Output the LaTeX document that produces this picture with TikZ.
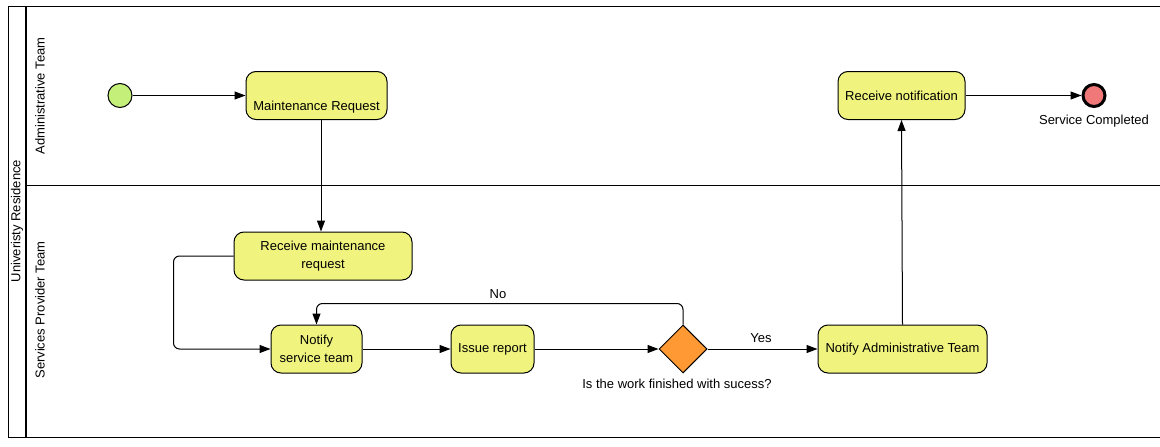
\documentclass[tikz,border=0pt]{standalone}
\usepackage{fontspec}
\setmainfont{Liberation Sans}
\usetikzlibrary{arrows.meta,shapes.geometric}
\definecolor{taskyellow}{RGB}{240,244,126}
\definecolor{startgreen}{RGB}{196,240,122}
\definecolor{endred}{RGB}{240,120,120}
\definecolor{gateorange}{RGB}{255,153,51}

\begin{document}
\begin{tikzpicture}[x=1pt,y=-1pt,
    font=\fontsize{13}{18}\selectfont,
    task/.style={draw, line width=1pt, fill=taskyellow, rounded corners=10pt,
      minimum height=48pt, inner sep=0pt, align=center},
    flow/.style={line width=1pt, -{Triangle[length=11pt,width=8pt]}},
    lanetext/.style={rotate=90}]
  \useasboundingbox (0,0) rectangle (1160,447);

  % pool and lanes
  \draw[line width=1pt] (8,6) rectangle (1175,437);
  \draw[line width=2pt] (26,6) -- (26,437);
  \draw[line width=1pt] (26,185) -- (1175,185);
  \node[lanetext] (pool) at (17,221) {Univeristy Residence};
  \node[lanetext] (laneadmin) at (40,96) {Administrative Team};
  \node[lanetext] (lanesp) at (40,310) {Services Provider Team};

  % events
  \node[circle, draw, line width=1pt, fill=startgreen, minimum size=24pt, inner sep=0pt] (start) at (120,95.5) {};
  \node[circle, draw, line width=3pt, fill=endred, minimum size=22pt, inner sep=0pt] (stop) at (1094,95.5) {};
  \node (stoplabel) at (1094,121) {Service Completed};

  % tasks
  \node[task, minimum width=141pt, label={[yshift=-12pt]center:Maintenance Request}] (mreq) at (316.5,95.5) {};
  \node[task, minimum width=127pt] (rnote) at (901.5,95.5) {Receive notification};
  \node[task, minimum width=178pt] (rmr) at (323,256) {Receive maintenance\\request};
  \node[task, minimum width=91pt] (nst) at (316.5,349) {Notify\\service team};
  \node[task, minimum width=83pt] (irep) at (492.5,349) {Issue report};
  \node[task, minimum width=169pt] (nat) at (902.5,349) {Notify Administrative Team};

  % gateway
  \node[diamond, draw, line width=1pt, fill=gateorange, minimum size=48pt, inner sep=0pt] (gw) at (683,349) {};
  \node (gwlabel) at (677,384) {Is the work finished with sucess?};

  % sequence flows
  \draw[flow] (start) -- (mreq.west);
  \draw[flow] (mreq.south -| 321,0) -- (rmr.north -| 321,0);
  \draw[flow, rounded corners=6pt] (rmr.west) -- ++(-60,0) |- (nst.west);
  \draw[flow] (nst) -- (irep);
  \draw[flow] (irep) -- (gw);
  \draw[flow, rounded corners=6pt] (gw.north) -- ++(0,-21) -| (nst.north);
  \node (nolabel) at (498,294) {No};
  \draw[flow] (gw) -- (nat);
  \node (yeslabel) at (761,338) {Yes};
  \draw[flow] (nat.north) -- (rnote.south);
  \draw[flow] (rnote) -- (stop);
\end{tikzpicture}
\end{document}
